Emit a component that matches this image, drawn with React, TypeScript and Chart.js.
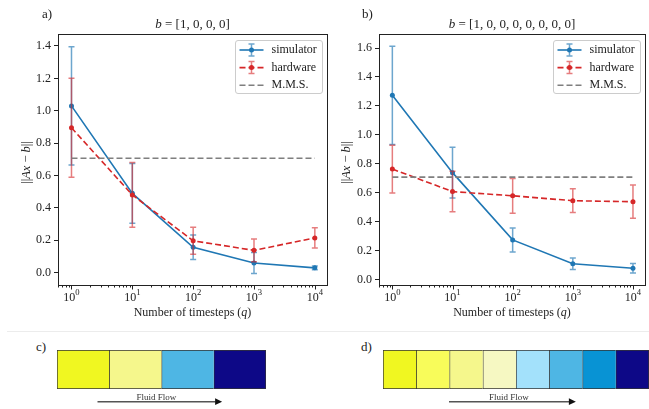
import React, { useEffect, useRef } from 'react';
import { Chart, registerables } from 'chart.js';

Chart.register(...registerables);

const FONT = '"Liberation Serif", "Times New Roman", serif';
const INK = '#222222';

// ---- data ----
const timesteps = [1, 10, 100, 1000, 10000];
const xTickExponents = [0, 1, 2, 3, 4];

// panel a) b = [1,0,0,0]
const simA = [1.03, 0.49, 0.157, 0.06, 0.03];
const simAErr = [0.365, 0.185, 0.076, 0.065, 0.012];
const hwA = [0.895, 0.48, 0.197, 0.138, 0.215];
const hwAErr = [0.305, 0.2, 0.083, 0.07, 0.063];
const yTicksA = [0, 0.2, 0.4, 0.6, 0.8, 1.0, 1.2, 1.4];

// panel b) b = [1,0,0,0,0,0,0,0]
const simB = [1.273, 0.738, 0.273, 0.108, 0.077];
const simBErr = [0.34, 0.175, 0.083, 0.04, 0.033];
const hwB = [0.763, 0.607, 0.578, 0.544, 0.537];
const hwBErr = [0.165, 0.14, 0.12, 0.082, 0.115];
const yTicksB = [0, 0.2, 0.4, 0.6, 0.8, 1.0, 1.2, 1.4, 1.6];

const mmsLevel = 0.7071;

const titleA = ' = [1, 0, 0, 0]';
const titleB = ' = [1, 0, 0, 0, 0, 0, 0, 0]';
const legendLabels = ['simulator', 'hardware', 'M.M.S.'];

// panels c) and d): cells of the fluid domain
const cellsC = [1, 1, 1, 1];
const colorsC = ['#f0f721', '#f5f78c', '#4eb6e4', '#0d0887'];
const cellsD = [1, 1, 1, 1, 1, 1, 1, 1];
const colorsD = ['#f0f721', '#f8fc5a', '#f5f78c', '#f6f8c2', '#a3e1fb', '#4eb6e4', '#0893d4', '#0d0887'];
const flowLabel = 'Fluid Flow';

const SIM_COLOR = '#1f77b4';
const HW_COLOR = '#d62728';
const MMS_COLOR = '#7f7f7f';
const SIM_ERR = 'rgba(31,119,180,0.65)';
const HW_ERR = 'rgba(214,39,40,0.6)';

type Seg = { t: string; it?: boolean; sup?: boolean };

function segFont(s: Seg, size: number) {
  const sz = s.sup ? size * 0.72 : size;
  return `${s.it ? 'italic ' : ''}${sz}px ${FONT}`;
}

function drawRich(ctx: CanvasRenderingContext2D, segs: Seg[], x: number, y: number, size: number, align: 'left' | 'center') {
  ctx.save();
  ctx.textBaseline = 'middle';
  ctx.textAlign = 'left';
  ctx.fillStyle = INK;
  let w = 0;
  const ws = segs.map((s) => {
    ctx.font = segFont(s, size);
    const m = ctx.measureText(s.t).width;
    w += m;
    return m;
  });
  let cx = align === 'center' ? x - w / 2 : x;
  segs.forEach((s, i) => {
    ctx.font = segFont(s, size);
    ctx.fillText(s.t, cx, s.sup ? y - size * 0.42 : y);
    cx += ws[i];
  });
  ctx.restore();
}

type PanelProps = {
  left: number;
  width: number;
  yAxisWidth: number;
  padRight: number;
  yMin: number;
  yMax: number;
  yTicks: number[];
  sim: number[];
  simErr: number[];
  hw: number[];
  hwErr: number[];
  title: string;
  letter: string;
  letterX: number;
  yTitleX: number;
};

const PANEL_H = 330;

function LinePanel(p: PanelProps) {
  const ref = useRef<HTMLCanvasElement>(null);
  useEffect(() => {
    const canvas = ref.current!;
    const errSets: ({ vals: number[]; err: number[]; color: string } | null)[] = [
      { vals: p.sim, err: p.simErr, color: SIM_ERR },
      { vals: p.hw, err: p.hwErr, color: HW_ERR },
      null,
    ];

    const plugin = {
      id: 'figure',
      beforeDatasetDraw(chart: any, args: any) {
        const es = errSets[args.index];
        if (!es) return;
        const ctx: CanvasRenderingContext2D = chart.ctx;
        const xs = chart.scales.x;
        const ys = chart.scales.y;
        ctx.save();
        ctx.strokeStyle = es.color;
        ctx.lineWidth = 1.5;
        es.vals.forEach((v, i) => {
          const px = xs.getPixelForValue(timesteps[i]);
          const top = ys.getPixelForValue(v + es.err[i]);
          const bot = ys.getPixelForValue(v - es.err[i]);
          ctx.beginPath();
          ctx.moveTo(px, top);
          ctx.lineTo(px, bot);
          ctx.moveTo(px - 3, top);
          ctx.lineTo(px + 3, top);
          ctx.moveTo(px - 3, bot);
          ctx.lineTo(px + 3, bot);
          ctx.stroke();
        });
        ctx.restore();
      },
      afterDraw(chart: any) {
        const ctx: CanvasRenderingContext2D = chart.ctx;
        const a = chart.chartArea;
        const xs = chart.scales.x;
        ctx.save();
        // frame
        ctx.strokeStyle = INK;
        ctx.lineWidth = 1;
        const L = Math.round(a.left) + 0.5;
        const T = Math.round(a.top) + 0.5;
        const R = Math.round(a.right) + 0.5;
        const B = Math.round(a.bottom) + 0.5;
        ctx.strokeRect(L, T, R - L, B - T);
        // x ticks (log)
        ctx.beginPath();
        for (let k = -1; k <= 4; k++) {
          for (let m = 1; m <= 9; m++) {
            const v = m * Math.pow(10, k);
            if (v < xs.min || v > xs.max) continue;
            const px = Math.round(xs.getPixelForValue(v)) + 0.5;
            const len = m === 1 ? 4 : 2;
            ctx.moveTo(px, B);
            ctx.lineTo(px, B + len);
          }
        }
        ctx.stroke();
        // x tick labels
        xTickExponents.forEach((e, i) => {
          const px = xs.getPixelForValue(timesteps[i]);
          drawRich(ctx, [{ t: '10' }, { t: String(e), sup: true }], px, a.bottom + 13, 12, 'center');
        });
        const cx = (a.left + a.right) / 2;
        // x title
        drawRich(ctx, [{ t: 'Number of timesteps (' }, { t: 'q', it: true }, { t: ')' }], cx, a.bottom + 28, 12, 'center');
        // y title
        ctx.save();
        ctx.translate(p.yTitleX, (a.top + a.bottom) / 2 + 3);
        ctx.rotate(-Math.PI / 2);
        drawRich(ctx, [{ t: '||' }, { t: 'Ax', it: true }, { t: ' \u2212 ' }, { t: 'b', it: true }, { t: '||' }], 0, 0, 12.5, 'center');
        ctx.restore();
        // title
        drawRich(ctx, [{ t: 'b', it: true }, { t: p.title }], cx, a.top - 9, 13, 'center');
        // panel letter
        drawRich(ctx, [{ t: p.letter }], p.letterX, 15, 13, 'left');
        // legend
        const w = 87;
        const h = 53;
        const x0 = Math.round(a.right - 5 - w) + 0.5;
        const y0 = Math.round(a.top + 6) + 0.5;
        ctx.beginPath();
        if ((ctx as any).roundRect) (ctx as any).roundRect(x0, y0, w, h, 2.5);
        else ctx.rect(x0, y0, w, h);
        ctx.fillStyle = 'rgba(255,255,255,0.85)';
        ctx.fill();
        ctx.strokeStyle = '#cccccc';
        ctx.lineWidth = 1;
        ctx.stroke();
        const items = [
          { color: SIM_COLOR, err: SIM_ERR, dash: [] as number[], marker: true },
          { color: HW_COLOR, err: HW_ERR, dash: [6, 3], marker: true },
          { color: MMS_COLOR, err: null as string | null, dash: [6, 3], marker: false },
        ];
        items.forEach((it, i) => {
          const yy = y0 + 9.5 + i * 17.6;
          const sx0 = x0 + 4;
          const sx1 = x0 + 28;
          const mid = (sx0 + sx1) / 2;
          if (it.err) {
            ctx.strokeStyle = it.err;
            ctx.lineWidth = 1.5;
            ctx.setLineDash([]);
            ctx.beginPath();
            ctx.moveTo(mid, yy - 6);
            ctx.lineTo(mid, yy + 6);
            ctx.moveTo(mid - 3, yy - 6);
            ctx.lineTo(mid + 3, yy - 6);
            ctx.moveTo(mid - 3, yy + 6);
            ctx.lineTo(mid + 3, yy + 6);
            ctx.stroke();
          }
          ctx.strokeStyle = it.color;
          ctx.lineWidth = 1.6;
          ctx.setLineDash(it.dash);
          ctx.beginPath();
          ctx.moveTo(sx0, yy);
          ctx.lineTo(sx1, yy);
          ctx.stroke();
          ctx.setLineDash([]);
          if (it.marker) {
            ctx.fillStyle = it.color;
            ctx.beginPath();
            ctx.arc(mid, yy, 2.5, 0, Math.PI * 2);
            ctx.fill();
          }
          drawRich(ctx, [{ t: legendLabels[i] }], x0 + 36, yy, 12, 'left');
        });
        ctx.restore();
      },
    };

    const chart = new Chart(canvas, {
      type: 'line',
      data: {
        datasets: [
          {
            label: legendLabels[0],
            data: timesteps.map((x, i) => ({ x, y: p.sim[i] })),
            borderColor: SIM_COLOR,
            backgroundColor: SIM_COLOR,
            borderWidth: 1.6,
            pointRadius: 2.5,
            pointBorderWidth: 0,
            tension: 0,
            order: 3,
          },
          {
            label: legendLabels[1],
            data: timesteps.map((x, i) => ({ x, y: p.hw[i] })),
            borderColor: HW_COLOR,
            backgroundColor: HW_COLOR,
            borderWidth: 1.6,
            borderDash: [6, 3],
            pointRadius: 2.5,
            pointBorderWidth: 0,
            tension: 0,
            order: 2,
          },
          {
            label: legendLabels[2],
            data: [
              { x: timesteps[0], y: mmsLevel },
              { x: timesteps[timesteps.length - 1], y: mmsLevel },
            ],
            borderColor: MMS_COLOR,
            backgroundColor: MMS_COLOR,
            borderWidth: 1.6,
            borderDash: [6, 3],
            pointRadius: 0,
            tension: 0,
            order: 1,
          },
        ],
      },
      options: {
        responsive: false,
        animation: false,
        devicePixelRatio: 1,
        events: [],
        layout: { padding: { top: 34, left: 0, right: p.padRight, bottom: 0 } },
        plugins: { legend: { display: false }, tooltip: { enabled: false }, title: { display: false } },
        scales: {
          x: {
            type: 'logarithmic',
            min: Math.pow(10, -0.2),
            max: Math.pow(10, 4.2),
            ticks: { display: false },
            grid: { display: false },
            border: { display: false },
            afterFit: (s: any) => {
              s.height = PANEL_H - 285;
            },
          },
          y: {
            type: 'linear',
            min: p.yMin,
            max: p.yMax,
            afterBuildTicks: (s: any) => {
              s.ticks = p.yTicks.map((v) => ({ value: v }));
            },
            afterFit: (s: any) => {
              s.width = p.yAxisWidth;
            },
            ticks: {
              autoSkip: false,
              padding: 3,
              color: INK,
              font: { family: FONT, size: 12 },
              callback: (v: any) => Number(v).toFixed(1),
            },
            grid: { display: true, drawOnChartArea: false, drawTicks: true, tickLength: 4, color: INK, lineWidth: 1 },
            border: { display: false },
          },
        },
      } as any,
      plugins: [plugin as any],
    });
    return () => chart.destroy();
  }, []);
  return (
    <canvas
      ref={ref}
      width={p.width}
      height={PANEL_H}
      style={{ position: 'absolute', left: p.left, top: 0, width: p.width, height: PANEL_H }}
    />
  );
}

type StripProps = {
  left: number;
  top: number;
  width: number;
  cells: number[];
  colors: string[];
  arrowFrom: number;
  arrowTo: number;
};

function StripPanel(p: StripProps) {
  const ref = useRef<HTMLCanvasElement>(null);
  const H = 60;
  useEffect(() => {
    const canvas = ref.current!;
    const n = p.cells.length;
    const total = p.cells.reduce((s, v) => s + v, 0);
    const arrowPlugin = {
      id: 'arrow',
      afterDraw(chart: any) {
        const ctx: CanvasRenderingContext2D = chart.ctx;
        const xs = chart.scales.x;
        const a = xs.getPixelForValue(p.arrowFrom);
        const b = xs.getPixelForValue(p.arrowTo);
        const y = chart.chartArea.bottom + 12.7;
        const headLen = 7;
        const headHalf = 3.4;
        ctx.save();
        ctx.strokeStyle = '#555555';
        ctx.lineWidth = 1.6;
        ctx.beginPath();
        ctx.moveTo(a, y);
        ctx.lineTo(b - headLen + 0.5, y);
        ctx.stroke();
        ctx.fillStyle = '#111111';
        ctx.beginPath();
        ctx.moveTo(b, y);
        ctx.lineTo(b - headLen, y - headHalf);
        ctx.lineTo(b - headLen, y + headHalf);
        ctx.closePath();
        ctx.fill();
        ctx.fillStyle = '#333333';
        ctx.font = `9px ${FONT}`;
        ctx.textAlign = 'center';
        ctx.textBaseline = 'alphabetic';
        ctx.fillText(flowLabel, (a + b - headLen) / 2, y - 1.6);
        ctx.restore();
      },
    };
    const chart = new Chart(canvas, {
      type: 'bar',
      data: {
        labels: [''],
        datasets: p.cells.map((v, i) => ({
          data: [v],
          backgroundColor: p.colors[i],
          borderColor: '#333333',
          borderWidth: { left: 1, top: 1, bottom: 1, right: i === n - 1 ? 1 : 0 },
          borderSkipped: false,
          barPercentage: 1,
          categoryPercentage: 1,
        })),
      },
      options: {
        indexAxis: 'y',
        responsive: false,
        animation: false,
        devicePixelRatio: 1,
        events: [],
        layout: { padding: { top: 1, bottom: 20, left: 0, right: 0 } },
        plugins: { legend: { display: false }, tooltip: { enabled: false } },
        scales: {
          x: { stacked: true, min: 0, max: total, display: false },
          y: { stacked: true, display: false },
        },
      } as any,
      plugins: [arrowPlugin as any],
    });
    return () => chart.destroy();
  }, []);
  return (
    <canvas
      ref={ref}
      width={p.width}
      height={H}
      style={{ position: 'absolute', left: p.left, top: p.top, width: p.width, height: H }}
    />
  );
}

const letterStyle = (left: number, top: number): React.CSSProperties => ({
  position: 'absolute',
  left,
  top,
  fontFamily: FONT,
  fontSize: 13,
  lineHeight: '13px',
  color: INK,
});

export default function App() {
  return (
    <div
      style={{
        position: 'absolute',
        left: 0,
        top: 0,
        width: 649,
        height: 409,
        background: '#ffffff',
        overflow: 'hidden',
      }}
    >
      <LinePanel
        left={0}
        width={331}
        yAxisWidth={58}
        padRight={3}
        yMin={-0.076}
        yMax={1.474}
        yTicks={yTicksA}
        sim={simA}
        simErr={simAErr}
        hw={hwA}
        hwErr={hwAErr}
        title={titleA}
        letter="a)"
        letterX={42}
        yTitleX={27}
      />
      <LinePanel
        left={331}
        width={318}
        yAxisWidth={48}
        padRight={0}
        yMin={-0.039}
        yMax={1.697}
        yTicks={yTicksB}
        sim={simB}
        simErr={simBErr}
        hw={hwB}
        hwErr={hwBErr}
        title={titleB}
        letter="b)"
        letterX={31}
        yTitleX={16}
      />
      <div style={{ position: 'absolute', left: 7, top: 331, width: 642, height: 1, background: '#ececec' }} />
      <div style={letterStyle(36, 340)}>c)</div>
      <div style={letterStyle(361, 340)}>d)</div>
      <StripPanel left={57} top={349} width={209} cells={cellsC} colors={colorsC} arrowFrom={0.775} arrowTo={3.16} />
      <StripPanel left={383} top={349} width={266} cells={cellsD} colors={colorsD} arrowFrom={1.985} arrowTo={5.8} />
    </div>
  );
}
